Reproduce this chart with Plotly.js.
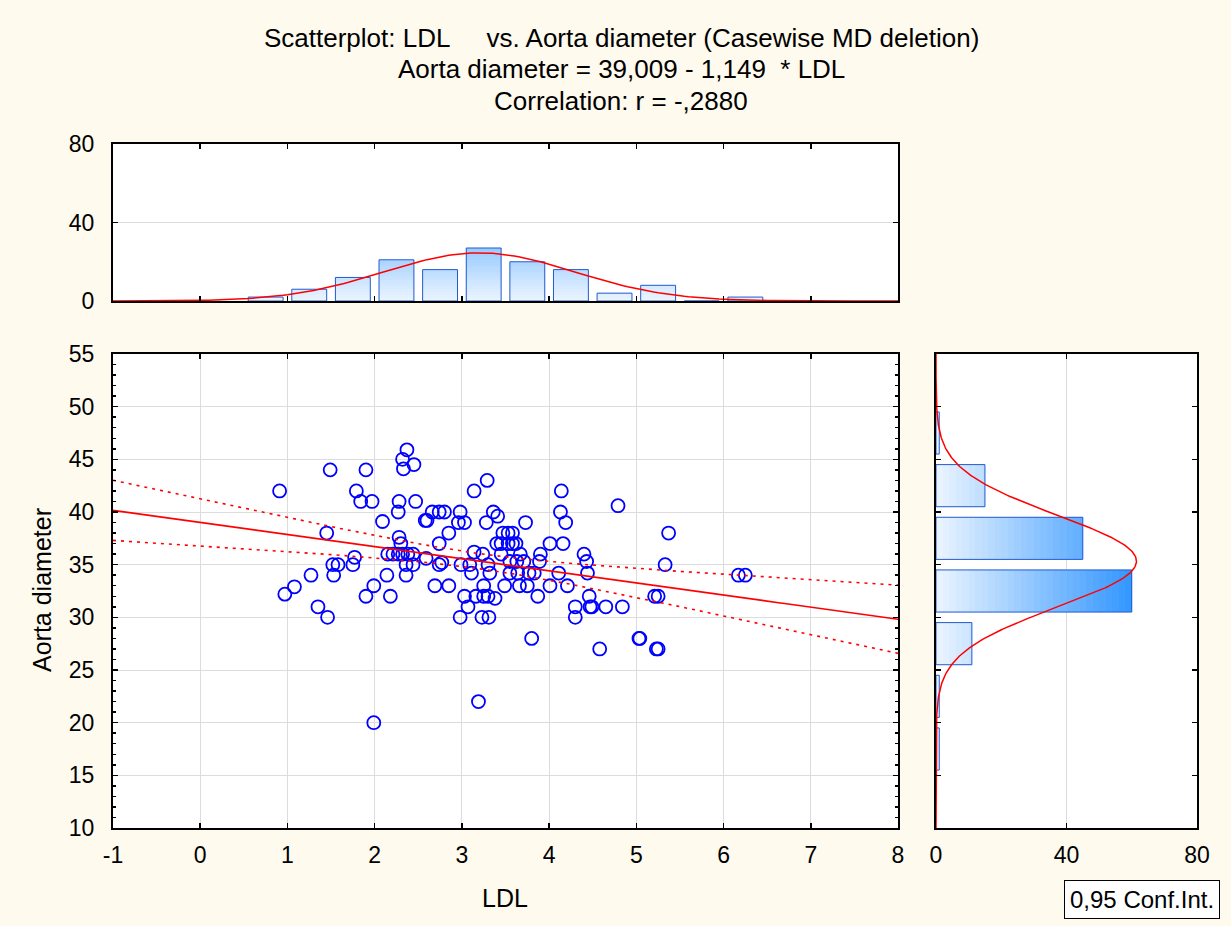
<!DOCTYPE html>
<html>
<head>
<meta charset="utf-8">
<script src="https://cdn.plot.ly/plotly-3.0.1.min.js"></script>
<style>html,body{margin:0;padding:0;background:#fefaee;}#chart{width:1231px;height:926px;}</style>
</head>
<body>
<div id="chart"></div>
<script>
// ---- Data ----
const LDL = [
  0.91, 0.97,
  1.08, 1.27, 1.35, 1.46, 1.45, 1.49,
  1.52, 1.58, 1.75, 1.77, 1.53, 1.79, 1.84, 1.97, 1.90, 1.90, 1.99, 1.99,
  2.09, 2.15, 2.21, 2.14, 2.18, 2.37, 2.32, 2.45, 2.33, 2.28, 2.47, 2.27, 2.28, 2.30, 2.27, 2.32, 2.38, 2.44, 2.36, 2.44, 2.36,
  2.58, 2.60, 2.66, 2.74, 2.80, 2.85, 2.74, 2.74, 2.59, 2.77, 2.69, 2.85, 2.98, 2.99, 2.98, 2.96,
  3.03, 3.14, 3.29, 3.36, 3.41, 3.28, 3.14, 3.24, 3.45, 3.09, 3.30, 3.11, 3.32, 3.25, 3.03, 3.16, 3.25, 3.30, 3.38, 3.07, 3.23, 3.31, 3.19, 3.40, 3.45, 3.47, 3.49,
  3.53, 3.58, 3.53, 3.58, 3.62, 3.67, 3.55, 3.64, 3.77, 3.83, 3.66, 3.75, 3.87, 3.80, 3.73, 3.90, 3.89, 3.63, 3.71, 3.55,
  4.14, 4.13, 4.19, 4.01, 4.16, 4.40, 4.43, 4.11, 4.44, 4.01, 4.21, 4.46, 4.30, 4.47, 4.30, 4.49,
  4.79, 4.65, 4.84, 4.58,
  5.37, 5.33, 5.21, 5.25, 5.03, 5.04, 5.23, 5.25,
  6.17, 6.25
];
const AORTA = [
  42, 32.2,
  32.9, 34, 31, 30, 38, 44,
  35, 35, 35, 35.7, 34, 42, 41, 41, 44, 32, 33, 20,
  39.1, 36, 36, 34, 32, 45.9, 45, 44.5, 44.1, 41, 41, 40, 37.6, 37, 36, 36, 36, 36, 35, 35, 34,
  39.2, 39.2, 40, 40, 40, 38, 37, 35, 35.6, 35.2, 33, 33, 40, 35, 30, 39,
  39, 42, 43, 40, 39.6, 39, 36.2, 36, 36, 35, 35, 34.2, 34.2, 33, 32, 32, 32, 32, 31.8, 31, 30, 30, 22, 37, 37, 38, 33,
  38, 38, 37, 37, 37, 36, 34.2, 34.2, 34.2, 34.2, 33, 33, 32, 28, 39, 36, 35.3, 35.3, 35.3, 35.3,
  42, 40, 39, 37, 37, 36, 35.3, 34.2, 34.2, 33, 33, 32, 31, 31, 30, 31,
  40.6, 31, 31, 27,
  38, 35, 32, 32, 28, 28, 27, 27,
  34, 34
];
const LDL_BIN_CENTERS = [0.75, 1.25, 1.75, 2.25, 2.75, 3.25, 3.75, 4.25, 4.75, 5.25, 5.75, 6.25];
const LDL_COUNTS      = [2,    6,    12,   21,   16,   27,   20,   16,   4,    8,    0,    2];
const AORTA_BIN_CENTERS = [17.5, 22.5, 27.5, 32.5, 37.5, 42.5, 47.5];
const AORTA_COUNTS      = [1,    1,    11,   60,   45,   15,   1];
const X_TICKS = [-1, 0, 1, 2, 3, 4, 5, 6, 7, 8];
const X_TICK_TEXT = ["-1", "0", "1", "2", "3", "4", "5", "6", "7", "8"];
const NB = "\u00a0";
const TITLE_LINES = [
  "Scatterplot: LDL" + NB.repeat(5) + "vs. Aorta diameter (Casewise MD deletion)",
  "Aorta diameter = 39,009 - 1,149" + NB.repeat(2) + "* LDL",
  "Correlation: r = -,2880"
];
const X_LABEL = "LDL";
const Y_LABEL = "Aorta diameter";
const CI_LABEL = "0,95 Conf.Int.";
// regression / distribution parameters
const INTERCEPT = 39.009, SLOPE = -1.149, R = -0.288;
const N = 134, MEAN_X = 3.2, SD_X = 1.09, SD_Y = 4.35, T95 = 1.978;
const LDL_BIN_W = 0.5, AORTA_BIN_W = 5;

// ---- Derived ----
const MEAN_Y = INTERCEPT + SLOPE * MEAN_X;
const S_RES = SD_Y * Math.sqrt((1 - R * R) * (N - 1) / (N - 2));
const SXX = (N - 1) * SD_X * SD_X;
const XR = [-1, 8], YR = [10, 55];
const pdf = (v, m, s) => Math.exp(-0.5 * ((v - m) / s) ** 2) / (s * Math.sqrt(2 * Math.PI));

const xs = [];
for (let i = 0; i <= 180; i++) xs.push(XR[0] + i * (XR[1] - XR[0]) / 180);
const fit = xs.map(x => INTERCEPT + SLOPE * x);
const hw = xs.map(x => T95 * S_RES * Math.sqrt(1 / N + (x - MEAN_X) ** 2 / SXX));
const ys = [];
for (let i = 0; i <= 450; i++) ys.push(YR[0] + i * (YR[1] - YR[0]) / 450);

const FONT = 'Arial, "Liberation Sans", sans-serif';
const RED = '#ff0000', BLUE = '#0000ff', EDGE = 'rgb(30,90,210)';
function cmap(v) {
  const t = Math.max(0, Math.min(1, v / 60));
  const c0 = [236, 245, 255], c1 = [50, 150, 255];
  return `rgb(${c0.map((a, i) => Math.round(a + (c1[i] - a) * t)).join(',')})`;
}

const traces = [];
// top histogram gradient (vertical)
const TOP_STEP = 1.5;
for (let L = 30; L > 0; L -= TOP_STEP) {
  traces.push({type: 'bar', x: LDL_BIN_CENTERS, y: LDL_COUNTS.map(c => Math.min(c, L)), width: 0.4,
    xaxis: 'x2', yaxis: 'y2', marker: {color: cmap(L - TOP_STEP / 2), line: {width: 0}}, hoverinfo: 'skip', showlegend: false});
}
traces.push({type: 'bar', x: LDL_BIN_CENTERS, y: LDL_COUNTS, width: 0.4, xaxis: 'x2', yaxis: 'y2',
  marker: {color: 'rgba(0,0,0,0)', line: {color: EDGE, width: 1}}, hoverinfo: 'skip', showlegend: false});
// right histogram gradient (horizontal)
const R_STEP = 2;
for (let L = 62; L > 0; L -= R_STEP) {
  traces.push({type: 'bar', orientation: 'h', y: AORTA_BIN_CENTERS, x: AORTA_COUNTS.map(c => Math.min(c, L)), width: 4,
    xaxis: 'x3', yaxis: 'y3', marker: {color: cmap(L - R_STEP / 2), line: {width: 0}}, hoverinfo: 'skip', showlegend: false});
}
traces.push({type: 'bar', orientation: 'h', y: AORTA_BIN_CENTERS, x: AORTA_COUNTS, width: 4, xaxis: 'x3', yaxis: 'y3',
  marker: {color: 'rgba(0,0,0,0)', line: {color: EDGE, width: 1}}, hoverinfo: 'skip', showlegend: false});
// normal curves
traces.push({type: 'scatter', mode: 'lines', x: xs, y: xs.map(x => N * LDL_BIN_W * pdf(x, MEAN_X, SD_X)),
  xaxis: 'x2', yaxis: 'y2', line: {color: RED, width: 1.5}, hoverinfo: 'skip', showlegend: false});
traces.push({type: 'scatter', mode: 'lines', y: ys, x: ys.map(y => N * AORTA_BIN_W * pdf(y, MEAN_Y, SD_Y)),
  xaxis: 'x3', yaxis: 'y3', line: {color: RED, width: 1.5}, hoverinfo: 'skip', showlegend: false});
// scatter
traces.push({type: 'scatter', mode: 'markers', x: LDL, y: AORTA, xaxis: 'x', yaxis: 'y',
  marker: {symbol: 'circle-open', size: 13, color: BLUE, line: {width: 1.8, color: BLUE}}, showlegend: false});
// regression line + CI
traces.push({type: 'scatter', mode: 'lines', x: xs, y: fit, line: {color: RED, width: 1.6}, showlegend: false, hoverinfo: 'skip'});
traces.push({type: 'scatter', mode: 'lines', x: xs, y: fit.map((f, i) => f + hw[i]), line: {color: RED, width: 1.6, dash: '3px,5px'}, showlegend: false, hoverinfo: 'skip'});
traces.push({type: 'scatter', mode: 'lines', x: xs, y: fit.map((f, i) => f - hw[i]), line: {color: RED, width: 1.6, dash: '3px,5px'}, showlegend: false, hoverinfo: 'skip'});

const W = 1231, H = 926;
const px = v => v / W, py = v => 1 - v / H;
const tickFont = {family: FONT, size: 23, color: '#000'};
const frame = {showline: true, linecolor: '#000', linewidth: 2, mirror: 'ticks', ticks: 'inside', ticklen: 5, tickcolor: '#000', tickwidth: 1.5, zeroline: false, fixedrange: true, tickfont: tickFont};
const GRID = '#dcdcdc';
const TITLE_SIZE = 26, LABEL_SIZE = 25;

const layout = {
  width: W, height: H,
  paper_bgcolor: '#fefaee', plot_bgcolor: '#ffffff',
  margin: {l: 0, r: 0, t: 0, b: 0},
  showlegend: false, barmode: 'overlay', bargap: 0,
  font: {family: FONT, size: 23, color: '#000'},
  xaxis: Object.assign({}, frame, {domain: [px(113), px(898)], range: XR, tickmode: 'array', tickvals: X_TICKS, ticktext: X_TICK_TEXT, showgrid: true, gridcolor: GRID, anchor: 'y', ticklabelstandoff: 5}),
  yaxis: Object.assign({}, frame, {domain: [py(828), py(354)], range: YR, dtick: 5, showgrid: true, gridcolor: GRID, anchor: 'x', ticklabelstandoff: 12,
    minor: {dtick: 1, ticks: 'inside', ticklen: 3, tickcolor: '#000', showgrid: false}}),
  xaxis2: Object.assign({}, frame, {domain: [px(113), px(898)], range: XR, dtick: 1, showgrid: false, showticklabels: false, anchor: 'y2'}),
  yaxis2: Object.assign({}, frame, {domain: [py(301), py(144)], range: [0, 80], dtick: 40, showgrid: true, gridcolor: GRID, anchor: 'x2', ticklabelstandoff: 12}),
  xaxis3: Object.assign({}, frame, {domain: [px(936), px(1197)], range: [0, 80], dtick: 40, showgrid: true, gridcolor: GRID, anchor: 'y3', ticklabelstandoff: 5}),
  yaxis3: Object.assign({}, frame, {domain: [py(828), py(354)], range: YR, dtick: 5, showgrid: false, showticklabels: false, anchor: 'x3'}),
  annotations: [
    ...TITLE_LINES.map((t, i) => ({text: t, xref: 'paper', yref: 'paper', x: px(621), y: py([38, 69, 101][i]), xanchor: 'center', yanchor: 'middle', showarrow: false, font: {family: FONT, size: TITLE_SIZE, color: '#000'}})),
    {text: X_LABEL, xref: 'paper', yref: 'paper', x: px(505), y: py(898), xanchor: 'center', yanchor: 'middle', showarrow: false, font: {family: FONT, size: LABEL_SIZE}},
    {text: Y_LABEL, xref: 'paper', yref: 'paper', x: px(42), y: py(590), xanchor: 'center', yanchor: 'middle', textangle: -90, showarrow: false, font: {family: FONT, size: LABEL_SIZE}},
    {text: CI_LABEL, xref: 'paper', yref: 'paper', x: px(1142), y: py(899), xanchor: 'center', yanchor: 'middle', showarrow: false,
      bordercolor: '#000', borderwidth: 1, borderpad: 5, bgcolor: '#ffffff', font: {family: FONT, size: 24}}
  ]
};

Plotly.newPlot('chart', traces, layout, {staticPlot: true, displayModeBar: false});
</script>
</body>
</html>
